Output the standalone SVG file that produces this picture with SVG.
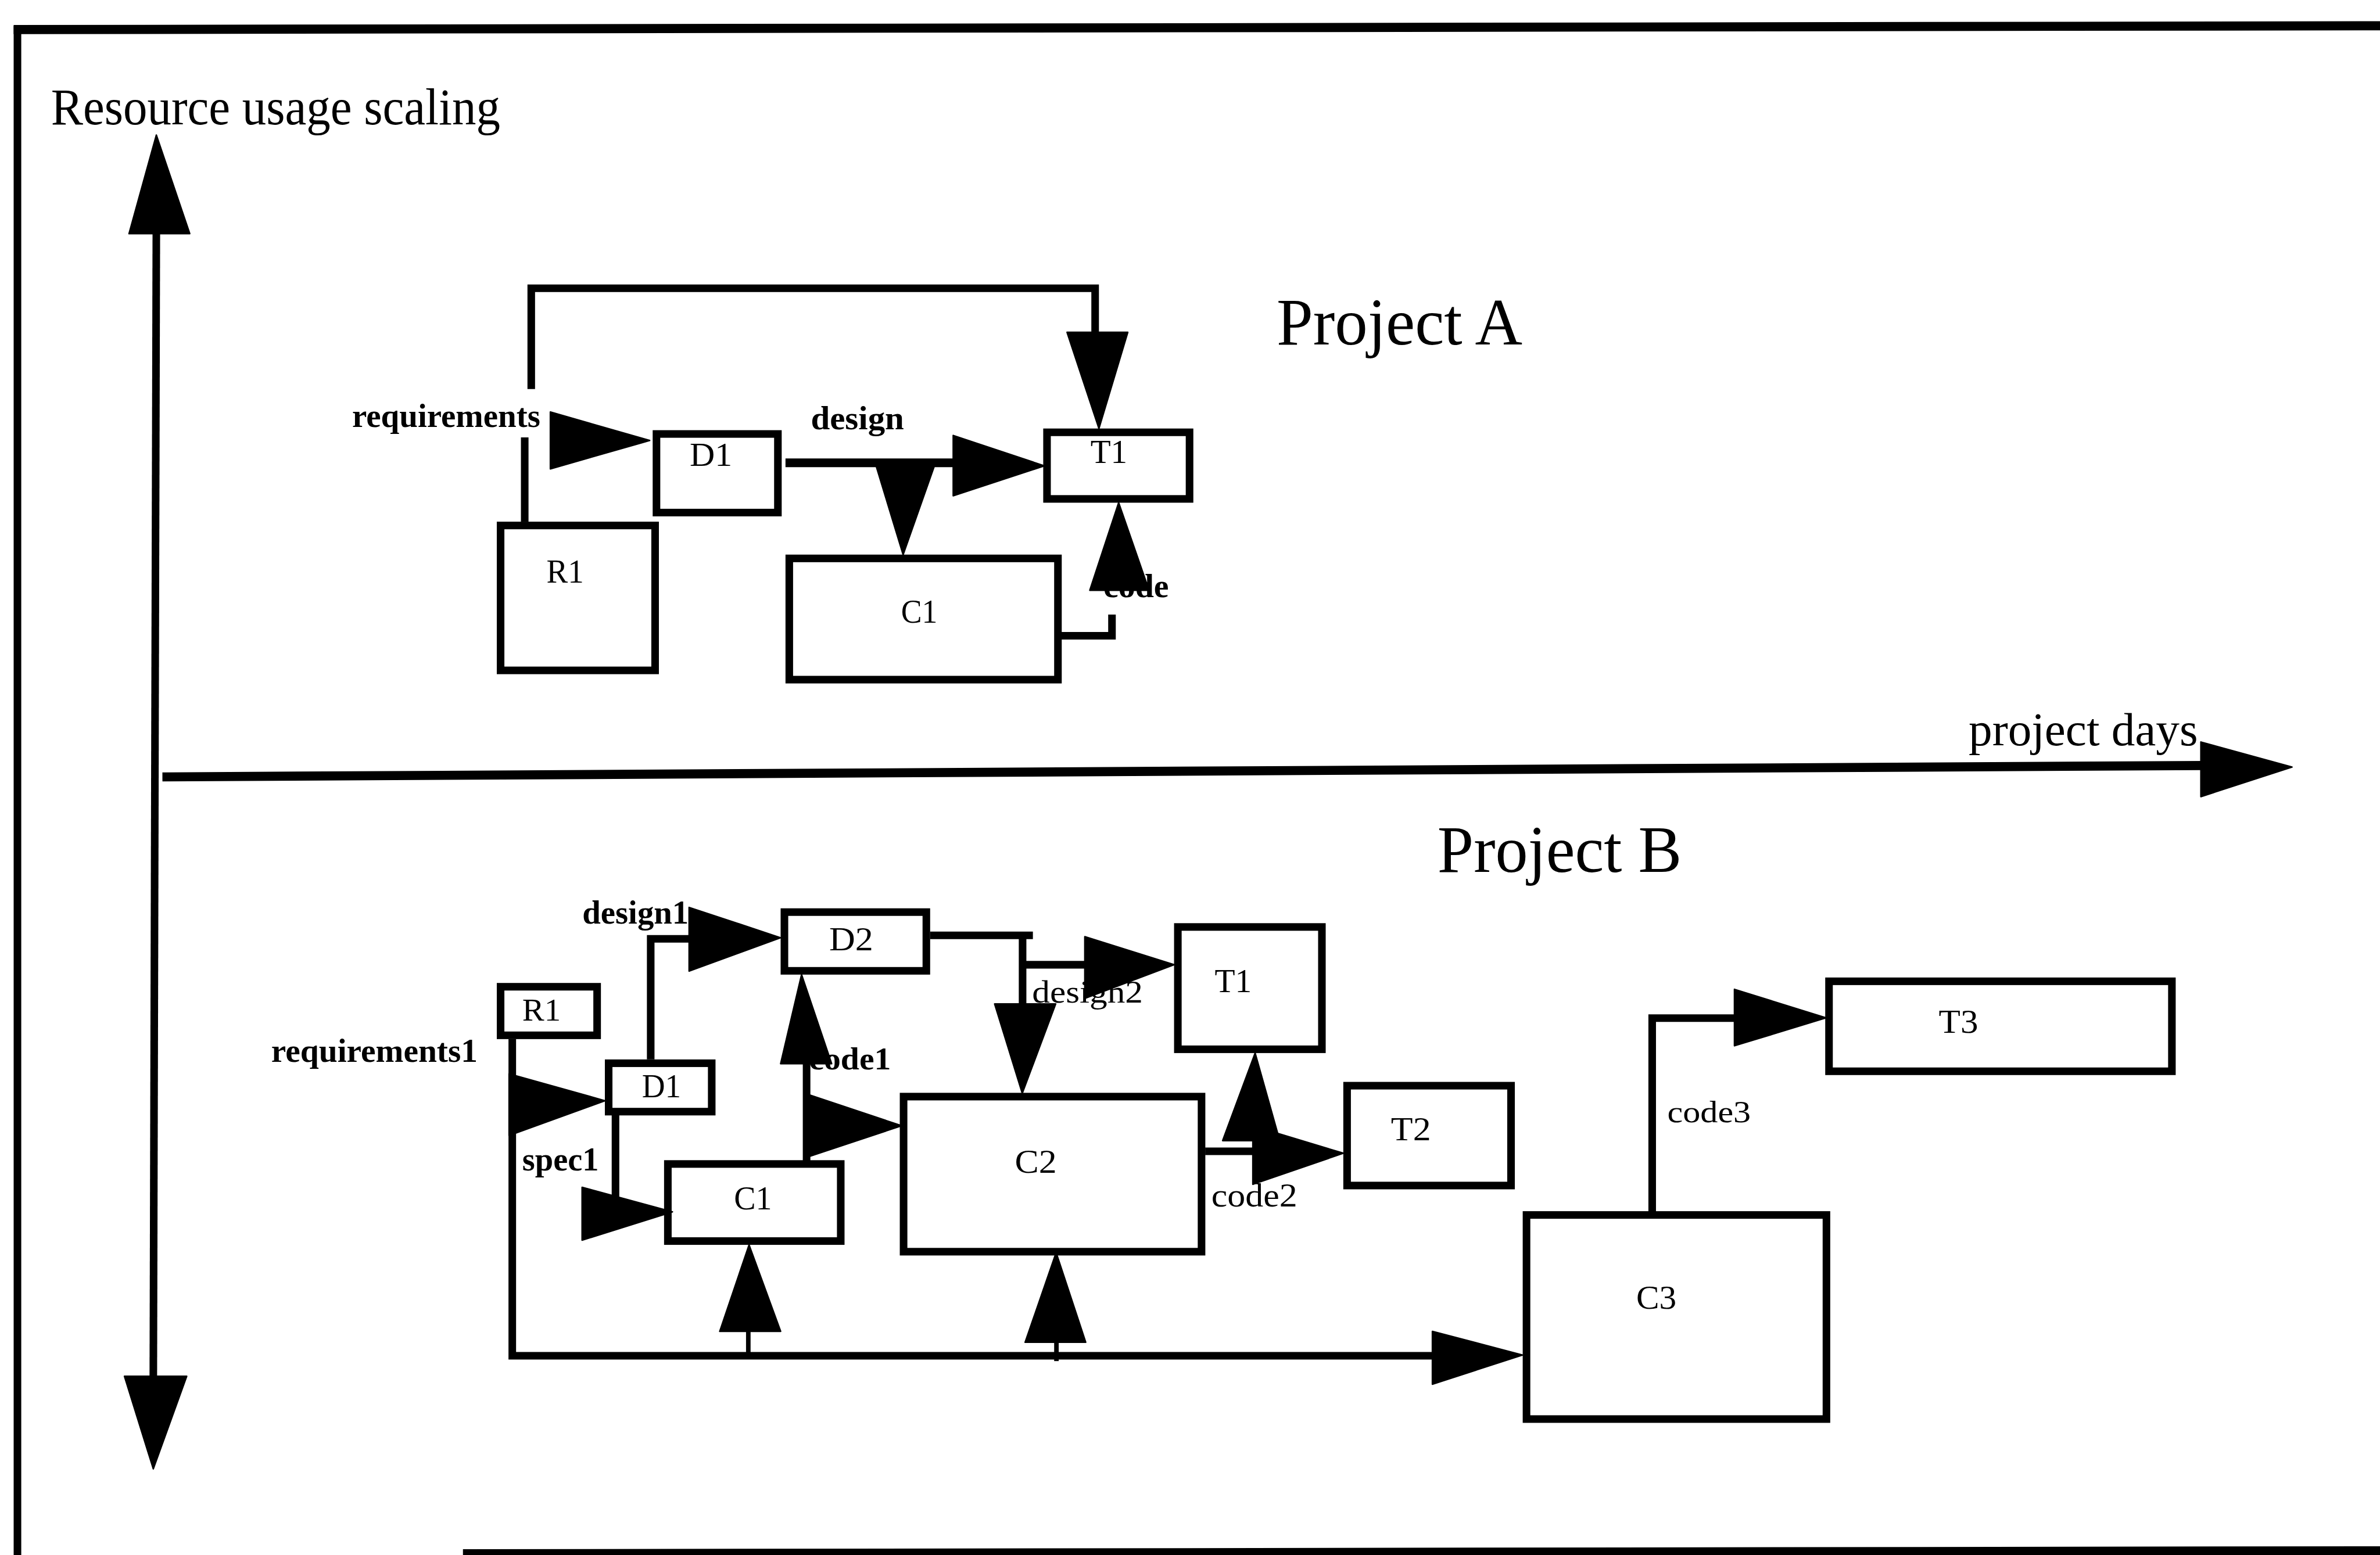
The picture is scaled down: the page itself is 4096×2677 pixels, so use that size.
<svg xmlns="http://www.w3.org/2000/svg" width="4096" height="2677" viewBox="0 0 4096 2677">
<style>
.bx{fill:#fff;stroke:#000;stroke-width:5}
.ln{fill:none;stroke:#000;stroke-width:5}
.thin{fill:none;stroke:#000;stroke-width:3}
.ah{fill:#000;stroke:#000;stroke-width:1;stroke-linejoin:round}
text{font-family:"Liberation Serif","Times New Roman",serif;fill:#000}
.nl{font-size:22px}
.el{font-size:22px;font-weight:bold}
.er{font-size:21px}
.tt{font-size:44px}
</style>
<rect width="4096" height="2677" fill="#fff"/>
<g transform="scale(2.612245)">
  <g id="frame">
    <line class="ln" x1="9" y1="19.5" x2="1568" y2="17" style="stroke-width:6"/>
    <line class="ln" x1="11.5" y1="17" x2="11.5" y2="1025"/>
    <line class="ln" x1="305" y1="1024" x2="1568" y2="1022" style="stroke-width:6"/>
  </g>
  <g id="axes">
    <line class="ln" x1="103" y1="150" x2="101" y2="910"/>
    <polygon class="ah" points="85,154 125,154 103,89"/>
    <polygon class="ah" points="82,907 123,907 101,968"/>
    <text x="33.6" y="82" style="font-size:34px" textLength="296" lengthAdjust="spacingAndGlyphs">Resource usage scaling</text>
    <line class="ln" x1="107" y1="512" x2="1452" y2="504.5" style="stroke-width:6"/>
    <polygon class="ah" points="1450,489 1450,525 1510,505.5"/>
    <text x="1297" y="491" style="font-size:31px" textLength="151" lengthAdjust="spacingAndGlyphs">project days</text>
  </g>
  <g id="projectA-title"><text class="tt" x="841" y="227" textLength="162" lengthAdjust="spacingAndGlyphs">Project A</text></g>
  <g id="projectB-title"><text class="tt" x="947" y="574.5" textLength="161" lengthAdjust="spacingAndGlyphs">Project B</text></g>

  <!-- Project A nodes -->
  <g id="A-R1"><rect class="bx" x="329.8" y="346.3" width="101.8" height="95.5"/><text class="nl" x="360" y="384" textLength="24.6" lengthAdjust="spacingAndGlyphs">R1</text></g>
  <g id="A-D1"><rect class="bx" x="432.5" y="286" width="80" height="51.8"/><text class="nl" x="454.4" y="307.2" textLength="28" lengthAdjust="spacingAndGlyphs">D1</text></g>
  <g id="A-T1"><rect class="bx" x="689.8" y="284.9" width="93.9" height="43.9"/><text class="nl" x="718.4" y="305.2" textLength="24.3" lengthAdjust="spacingAndGlyphs">T1</text></g>
  <g id="A-C1"><rect class="bx" x="520" y="368" width="177" height="79.9"/><text class="nl" x="593.6" y="410.3" textLength="24" lengthAdjust="spacingAndGlyphs">C1</text></g>

  <!-- Project B nodes -->
  <g id="B-R1"><rect class="bx" x="329.8" y="650.3" width="63.6" height="32"/><text class="nl" x="344.1" y="672.6" style="font-size:21px" textLength="25.4" lengthAdjust="spacingAndGlyphs">R1</text></g>
  <g id="B-D1"><rect class="bx" x="401" y="700.7" width="67.9" height="31.9"/><text class="nl" x="422.9" y="723.3" textLength="25.8" lengthAdjust="spacingAndGlyphs">D1</text></g>
  <g id="B-D2"><rect class="bx" x="516.8" y="601.1" width="93.5" height="38.7"/><text class="nl" x="546.3" y="626.2" textLength="29" lengthAdjust="spacingAndGlyphs">D2</text></g>
  <g id="B-C1"><rect class="bx" x="440" y="767.1" width="113.9" height="50.8"/><text class="nl" x="483.6" y="797" textLength="25" lengthAdjust="spacingAndGlyphs">C1</text></g>
  <g id="B-C2"><rect class="bx" x="595.3" y="722.7" width="196.3" height="102.2"/><text class="nl" x="668.6" y="772.8" textLength="27.6" lengthAdjust="spacingAndGlyphs">C2</text></g>
  <g id="B-T1"><rect class="bx" x="776" y="610.9" width="94.9" height="80.6"/><text class="nl" x="800.3" y="653.8" textLength="24.4" lengthAdjust="spacingAndGlyphs">T1</text></g>
  <g id="B-T2"><rect class="bx" x="887.5" y="715.5" width="108" height="65.8"/><text class="nl" x="916.4" y="751.5" textLength="26.3" lengthAdjust="spacingAndGlyphs">T2</text></g>
  <g id="B-T3"><rect class="bx" x="1205" y="646.7" width="225.9" height="59.3"/><text class="nl" x="1277.3" y="680.8" textLength="26" lengthAdjust="spacingAndGlyphs">T3</text></g>
  <g id="B-C3"><rect class="bx" x="1005.7" y="800.7" width="197.6" height="134.5"/><text class="nl" x="1078" y="862.4" textLength="26.5" lengthAdjust="spacingAndGlyphs">C3</text></g>

  <g id="connectors">
    <!-- Project A -->
    <path class="ln" d="M350,256.4 V190 H721.5 V220"/>
    <path class="ln" d="M345.7,288.3 V344"/>
    <polygon class="ah" points="703,219 743,219 724,282.4"/>
    <text class="el" x="232" y="281.3" textLength="124" lengthAdjust="spacingAndGlyphs">requirements</text>
    <polygon class="ah" points="362.6,271.5 362.6,309 428,290.3"/>
    <line class="ln" x1="517.5" y1="305" x2="630" y2="305" style="stroke-width:5.8"/>
    <text class="el" x="534.2" y="282.8" textLength="61.4" lengthAdjust="spacingAndGlyphs">design</text>
    <polygon class="ah" points="576,303 617,303 595,365.5"/>
    <polygon class="ah" points="628,287 628,326.7 688,307"/>
    <path class="ln" d="M697,419 H732.6 V405"/>
    <text class="el" x="727" y="393.6" textLength="43" lengthAdjust="spacingAndGlyphs">code</text>
    <polygon class="ah" points="718,389 757,389 737,331.3"/>

    <!-- Project B -->
    <path class="ln" d="M337.5,684.8 V893.5 H945"/>
    <text class="el" x="178.7" y="699.6" textLength="136" lengthAdjust="spacingAndGlyphs">requirements1</text>
    <polygon class="ah" points="335.4,707.7 335.4,748.3 398.5,725.4"/>
    <path class="ln" d="M428.7,698.2 V618.7 H456"/>
    <text class="el" x="383.7" y="608.8" textLength="70" lengthAdjust="spacingAndGlyphs">design1</text>
    <polygon class="ah" points="454,598 454,640 514.3,618"/>
    <path class="ln" d="M405.5,735 V790"/>
    <text class="el" x="344.1" y="771.2" textLength="50.4" lengthAdjust="spacingAndGlyphs">spec1</text>
    <polygon class="ah" points="383.5,782.5 383.5,817.3 443,798.6"/>
    <line class="thin" x1="493" y1="876" x2="493" y2="893"/>
    <polygon class="ah" points="474.2,877.4 514.3,877.4 493.5,820.4"/>
    <path class="ln" d="M531.4,766 V700"/>
    <text class="el" x="533" y="704.7" style="font-size:21px" textLength="54" lengthAdjust="spacingAndGlyphs">code1</text>
    <polygon class="ah" points="514.3,701 547.9,701 528.1,642.3"/>
    <polygon class="ah" points="533,721.5 533,762.2 594,741.9"/>
    <path class="ln" d="M612.8,616.4 H680.5 M673.7,616.4 V663 M673.7,635.8 H716"/>
    <text class="er" x="680" y="660.9" textLength="73" lengthAdjust="spacingAndGlyphs">design2</text>
    <polygon class="ah" points="714.7,617.3 714.7,658 773.5,635.8"/>
    <polygon class="ah" points="655.3,661.6 695.5,661.6 673.5,720.5"/>
    <line class="ln" x1="794" y1="758.7" x2="826" y2="758.7"/>
    <text class="nl" x="798.1" y="795.2" textLength="56.6" lengthAdjust="spacingAndGlyphs">code2</text>
    <polygon class="ah" points="805.5,751.7 843.1,751.7 826.9,694"/>
    <polygon class="ah" points="825.4,742 825.4,780.5 885,760"/>
    <line class="thin" x1="696" y1="883" x2="696" y2="897"/>
    <polygon class="ah" points="675.4,884.6 715.3,884.6 695.8,825.5"/>
    <polygon class="ah" points="943.7,877.4 943.7,912.2 1003,893"/>
    <path class="ln" d="M1088.5,799 V671 H1144"/>
    <text class="nl" x="1098.5" y="739.5" style="font-size:20px" textLength="55" lengthAdjust="spacingAndGlyphs">code3</text>
    <polygon class="ah" points="1142.7,652 1142.7,689.2 1203,670.8"/>
  </g>
</g>
</svg>
